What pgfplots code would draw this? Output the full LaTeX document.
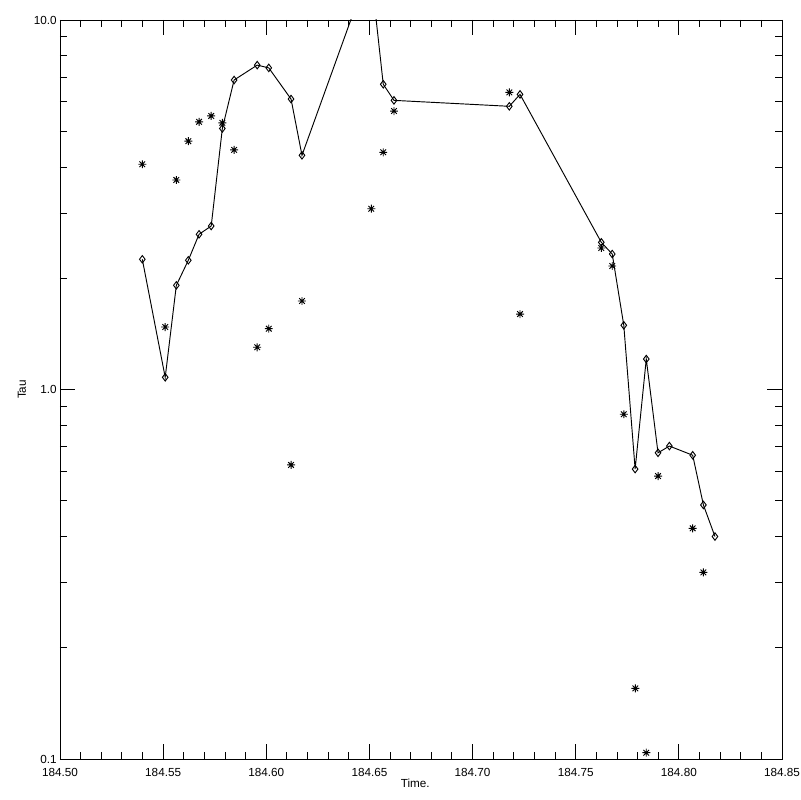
\documentclass[border=0pt]{standalone}
\usepackage{pgfplots}
\pgfplotsset{compat=1.18}
\usepackage{fontspec}
\setmainfont{Liberation Sans}
\pgfdeclareplotmark{ast8}{%
  \pgfpathmoveto{\pgfqpoint{-\pgfplotmarksize}{0pt}}\pgfpathlineto{\pgfqpoint{\pgfplotmarksize}{0pt}}%
  \pgfpathmoveto{\pgfqpoint{0pt}{-\pgfplotmarksize}}\pgfpathlineto{\pgfqpoint{0pt}{\pgfplotmarksize}}%
  \pgfpathmoveto{\pgfqpoint{-0.707\pgfplotmarksize}{-0.707\pgfplotmarksize}}\pgfpathlineto{\pgfqpoint{0.707\pgfplotmarksize}{0.707\pgfplotmarksize}}%
  \pgfpathmoveto{\pgfqpoint{-0.707\pgfplotmarksize}{0.707\pgfplotmarksize}}\pgfpathlineto{\pgfqpoint{0.707\pgfplotmarksize}{-0.707\pgfplotmarksize}}%
  \pgfusepathqstroke}
\begin{document}
\begin{tikzpicture}
\useasboundingbox (-18mm,-12.3mm) rectangle (222mm,227.7mm);
\begin{axis}[name=ax, at={(0,0)}, anchor=south west,
  scale only axis, width=216.6mm, height=221.7mm,
  xmin=184.5, xmax=184.85, ymode=log, ymin=0.1, ymax=10,
  tick align=inside, major tick length=4.5mm, minor tick length=2.1mm,
  xtick={184.5,184.55,184.6,184.65,184.7,184.75,184.8,184.85},
  xticklabels={184.50,184.55,184.60,184.65,184.70,184.75,184.80,184.85},
  minor x tick num=4,
  ytick={0.1,1,10}, yticklabels={0.1,1.0,10.0},
  minor ytick={0.2,0.3,0.4,0.5,0.6,0.7,0.8,0.9,2,3,4,5,6,7,8,9},
  axis line style={line width=0.8pt},
  every tick/.style={black, line width=0.8pt},
  ticklabel style={font=\fontsize{10}{11}\selectfont},
  xticklabel style={anchor=center, yshift=-3.9mm},
  yticklabel style={anchor=east, inner sep=0pt, xshift=-0.9mm},
  xlabel={Time.}, ylabel={Tau},
  label style={font=\fontsize{7.5}{8}\selectfont},
  every axis x label/.style={at={(axis description cs:0.492,0)}, anchor=center, yshift=-7.2mm},
  every axis y label/.style={at={(axis description cs:0,0.5)}, xshift=-11.4mm, rotate=90, anchor=center},
  every axis plot/.append style={line width=0.8pt, black},
]
\addplot[mark=diamond, mark size=3.2pt, mark options={solid, fill=white}] table {
x y
184.5399 2.251
184.5510 1.079
184.5564 1.914
184.5622 2.237
184.5674 2.630
184.5733 2.770
184.5787 5.086
184.5844 6.88
184.5956 7.55
184.6012 7.42
184.6120 6.11
184.6173 4.303
184.6504 14.0
184.6567 6.70
184.6619 6.06
184.7178 5.84
184.7230 6.29
184.7624 2.502
184.7677 2.326
184.7733 1.492
184.7788 0.609
184.7842 1.209
184.7899 0.674
184.7954 0.703
184.8067 0.664
184.8119 0.487
184.8175 0.400
};
\addplot[only marks, mark=ast8, mark size=3.4pt] table {
x y
184.5399 4.07
184.5510 1.476
184.5564 3.69
184.5622 4.70
184.5674 5.30
184.5733 5.50
184.5787 5.27
184.5844 4.45
184.5956 1.301
184.6012 1.461
184.6120 0.625
184.6173 1.736
184.6509 3.085
184.6567 4.385
184.6619 5.67
184.7178 6.37
184.7230 1.600
184.7624 2.415
184.7677 2.159
184.7733 0.857
184.7789 0.1553
184.7842 0.104
184.7899 0.583
184.8067 0.421
184.8119 0.320
};
\end{axis}
\end{tikzpicture}
\end{document}
